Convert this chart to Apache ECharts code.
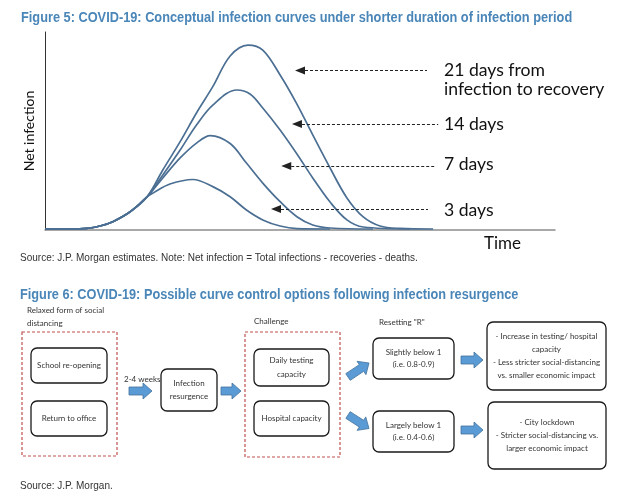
<!DOCTYPE html>
<html>
<head>
<meta charset="utf-8">
<script src="https://cdn.jsdelivr.net/npm/echarts@6/dist/echarts.min.js"></script>
<style>
  html, body { margin: 0; padding: 0; background: #fff; }
  #main { width: 630px; height: 500px; }
</style>
</head>
<body>
<div id="main"></div>
<script>
// net infection curves, [time, net infection]
var curve21 = [[0, 0.5], [4.9, 0.5], [8.2, 0.8], [10.8, 2.0], [13.3, 4.2], [16.7, 9.2], [20.0, 16.7], [23.1, 30.3], [26.5, 44.6], [29.7, 59.1], [32.9, 72.4], [36.3, 87.9], [39.8, 93.4], [42.7, 90.9], [46.1, 78.3], [49.4, 63.6], [52.5, 48.0], [55.9, 31.3], [59.2, 16.2], [62.4, 6.6], [65.7, 2.0], [69.6, 0.8], [76.1, 0.5]]
var curve14 = [[0, 0.5], [4.9, 0.5], [8.2, 0.8], [10.8, 2.0], [13.3, 4.2], [16.7, 9.2], [20.0, 16.7], [23.1, 27.8], [26.5, 40.4], [29.7, 53.0], [32.9, 63.1], [37.6, 70.7], [40.2, 68.7], [42.7, 61.6], [46.1, 50.5], [49.4, 38.4], [52.5, 26.3], [55.9, 14.1], [59.2, 5.1], [62.4, 1.5], [71.6, 0.5]]
var curve7 = [[0, 0.5], [4.9, 0.5], [8.2, 0.8], [10.8, 2.0], [13.3, 4.2], [16.7, 9.2], [20.0, 16.7], [23.1, 26.3], [26.5, 36.4], [29.7, 43.9], [32.4, 47.7], [36.3, 43.7], [39.5, 33.8], [42.7, 23.7], [46.1, 14.3], [49.4, 6.7], [52.5, 2.5], [55.9, 1.0], [64.3, 0.5]]
var curve3 = [[0, 0.5], [4.9, 0.5], [8.2, 0.8], [10.8, 2.0], [13.3, 4.2], [16.7, 9.2], [20.0, 16.7], [21.4, 19.0], [24.5, 23.2], [29.0, 25.5], [32.9, 21.9], [36.3, 16.8], [39.5, 10.1], [42.7, 5.1], [46.1, 2.0], [49.4, 0.7], [55.9, 0.5]]

// annotation arrows: height, arrow head and dashed end (time units)
var arrowNames = ['21 days', '14 days', '7 days', '3 days']
var arrowY = [80.5, 53.5, 32.3, 10.6]
var arrowTipX = [50.0, 49.4, 47.3, 45.3]
var arrowEndX = [74.9, 77.1, 76.5, 75.1]
var arrowText = ['21 days from\ninfection to recovery', '14 days', '7 days', '3 days']

var titleFont = "'Liberation Sans', Arial, sans-serif"
var bodyFont = "Lato, 'Open Sans', sans-serif"
var curveColor = '#4b6f93'

var chart = echarts.init(document.getElementById('main'))

function curveSeries (name, data, i) {
  return {
    name: name,
    type: 'line',
    data: data,
    smooth: 0.35,
    showSymbol: false,
    silent: true,
    lineStyle: { color: curveColor, width: 1.7 },
    markLine: {
      silent: true,
      symbol: ['triangle', 'none'],
      symbolSize: [8, 10],
      lineStyle: { color: '#222', type: [3, 2], width: 1 },
      itemStyle: { color: '#111' },
      label: { show: false },
      data: [[{ coord: [arrowTipX[i], arrowY[i]] }, { coord: [arrowEndX[i], arrowY[i]] }]]
    }
  }
}

// blue block arrow from (x1,y1) to (x2,y2)
function blockArrow (x1, y1, x2, y2) {
  var dx = x2 - x1
  var dy = y2 - y1
  var len = Math.sqrt(dx * dx + dy * dy)
  var ux = dx / len
  var uy = dy / len
  var nx = -uy
  var ny = ux
  var s = 4
  var h = 8
  var hl = 9
  var bx = x2 - ux * hl
  var by = y2 - uy * hl
  return {
    type: 'polygon',
    shape: {
      points: [
        [x1 + nx * s, y1 + ny * s], [bx + nx * s, by + ny * s], [bx + nx * h, by + ny * h],
        [x2, y2],
        [bx - nx * h, by - ny * h], [bx - nx * s, by - ny * s], [x1 - nx * s, y1 - ny * s]
      ]
    },
    style: { fill: '#5b9bd5', stroke: '#41719c', lineWidth: 0.8 }
  }
}

function box (x, y, w, h, lines, lh) {
  return [{
    type: 'rect',
    shape: { x: x, y: y, width: w, height: h, r: 6 },
    style: { fill: '#fff', stroke: '#1a1a1a', lineWidth: 1.3 }
  }, {
    type: 'text',
    style: {
      text: lines.join('\n'), x: x + w / 2, y: y + h / 2, align: 'center', verticalAlign: 'middle',
      fontFamily: bodyFont, fontSize: 8, lineHeight: lh || 13, fill: '#333'
    }
  }]
}

function dashedBox (x, y, w, h) {
  return {
    type: 'rect',
    shape: { x: x, y: y, width: w, height: h },
    style: { fill: 'none', stroke: '#c0504d', lineWidth: 1.2, lineDash: [3, 2] }
  }
}

function label (text, x, y, size, font, color, align) {
  return {
    type: 'text',
    style: { text: text, x: x, y: y, align: align || 'left', verticalAlign: 'middle', fontFamily: font, fontSize: size, fill: color }
  }
}

// narrow (Arial Narrow look) text, squeezed horizontally
function narrow (text, x, y, size, weight, color, sx) {
  return {
    type: 'text',
    x: x,
    y: y,
    scaleX: sx,
    style: { text: text, x: 0, y: 0, verticalAlign: 'middle', fontFamily: titleFont, fontSize: size, fontWeight: weight, fill: color }
  }
}

var graphics = []
graphics.push(narrow('Figure 5: COVID-19: Conceptual infection curves under shorter duration of infection period', 21, 18, 14, 'bold', '#4a86b8', 0.912))
graphics.push(narrow('Figure 6: COVID-19: Possible curve control options following infection resurgence', 20, 295, 14, 'bold', '#4a86b8', 0.91))

// annotation texts beside the arrows
var note = label(arrowText[0], 444, 79.5, 17.6, bodyFont, '#111')
note.style.lineHeight = 19
graphics.push(note)
graphics.push(label(arrowText[1], 444, 124, 17.6, bodyFont, '#111'))
graphics.push(label(arrowText[2], 444, 164, 17.6, bodyFont, '#111'))
graphics.push(label(arrowText[3], 444, 210, 17.6, bodyFont, '#111'))
graphics.push(narrow('Source: J.P. Morgan estimates. Note: Net infection = Total infections - recoveries - deaths.', 20, 258, 10.5, 'normal', '#333', 0.953))

// figure 6 flow diagram
graphics.push(label('Relaxed form of social', 27, 310.7, 8, bodyFont, '#333'))
graphics.push(label('distancing', 27, 323.3, 8, bodyFont, '#333'))
graphics.push(label('Challenge', 254, 321.7, 8, bodyFont, '#333'))
graphics.push(label('Resetting "R"', 379, 322.3, 8, bodyFont, '#333'))
graphics.push(label('2-4 weeks', 124, 379, 8, bodyFont, '#333'))
graphics.push(dashedBox(22, 332, 95, 124))
graphics.push(dashedBox(245, 332, 95, 125))
graphics = graphics.concat(box(31, 348, 76, 35, ['School re-opening']))
graphics = graphics.concat(box(31, 401, 76, 35, ['Return to office']))
graphics = graphics.concat(box(161, 369, 56, 42, ['Infection', 'resurgence'], 13.4))
graphics = graphics.concat(box(254, 349, 75, 37, ['Daily testing', 'capacity'], 13.3))
graphics = graphics.concat(box(254, 401, 75, 35, ['Hospital capacity']))
graphics = graphics.concat(box(373, 338, 81, 41, ['Slightly below 1', '(i.e. 0.8-0.9)'], 12.8))
graphics = graphics.concat(box(373, 411, 81, 41, ['Largely below 1', '(i.e. 0.4-0.6)'], 12.2))
graphics = graphics.concat(box(487, 322, 119, 68, ['- Increase in testing/ hospital', 'capacity', '- Less stricter social-distancing', 'vs. smaller economic impact'], 13.1))
graphics = graphics.concat(box(488, 402, 118, 67, ['- City lockdown', '- Stricter social-distancing vs.', 'larger economic impact'], 12.8))
graphics.push(blockArrow(129, 391, 152, 391))
graphics.push(blockArrow(221, 391, 241, 391))
graphics.push(blockArrow(348, 377, 369, 363))
graphics.push(blockArrow(348, 415, 369, 428.5))
graphics.push(blockArrow(461, 360, 483, 360))
graphics.push(blockArrow(461, 430, 483, 430))
graphics.push(narrow('Source: J.P. Morgan.', 20, 486, 11, 'normal', '#333', 0.91))

var option = {
  animation: false,
  backgroundColor: '#fff',
  grid: { left: 45, top: 32, width: 510, height: 198 },
  xAxis: {
    type: 'value',
    min: 0,
    max: 100,
    name: 'Time',
    nameLocation: 'end',
    nameGap: -34,
    nameTextStyle: { fontFamily: bodyFont, fontSize: 17, color: '#111', align: 'right', verticalAlign: 'top', padding: [5, 0, 0, 0] },
    axisLine: { lineStyle: { color: '#8c8c8c', width: 1.5 } },
    axisTick: { show: false },
    axisLabel: { show: false },
    splitLine: { show: false }
  },
  yAxis: {
    type: 'value',
    min: 0,
    max: 100,
    name: 'Net infection',
    nameLocation: 'middle',
    nameGap: 9,
    nameRotate: 90,
    nameTextStyle: { fontFamily: bodyFont, fontSize: 14, color: '#111' },
    axisLine: { show: true, lineStyle: { color: '#333', width: 1 } },
    axisTick: { show: false },
    axisLabel: { show: false },
    splitLine: { show: false }
  },
  series: [
    curveSeries(arrowNames[0], curve21, 0),
    curveSeries(arrowNames[1], curve14, 1),
    curveSeries(arrowNames[2], curve7, 2),
    curveSeries(arrowNames[3], curve3, 3)
  ],
  graphic: graphics
}

chart.setOption(option)
</script>
</body>
</html>
